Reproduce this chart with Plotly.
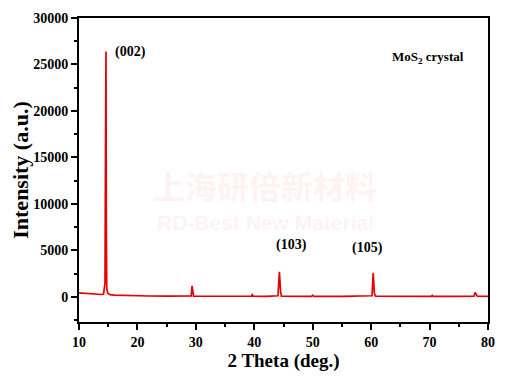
import plotly.graph_objects as go

two_theta = [10.0, 11.0, 12.0, 13.0, 13.8, 14.2, 14.45, 14.55, 14.62, 14.68, 14.75, 14.9, 15.3,
             16.0, 18.0, 20.0, 22.0, 25.0, 28.0, 29.2, 29.35, 29.45, 29.6, 32.0, 35.0,
             39.5, 39.65, 39.8, 42.0, 44.05, 44.3, 44.4, 44.5, 44.65, 47.0, 49.8, 50.0, 50.2,
             55.0, 60.15, 60.35, 60.45, 60.55, 60.75, 65.0, 70.3, 70.45, 70.6, 75.0,
             77.6, 77.8, 77.95, 78.15, 80.0]
intensity = [430, 370, 320, 280, 260, 300, 1500, 18000, 26400, 7200, 900, 430, 250,
             190, 140, 110, 95, 85, 75, 110, 1180, 350, 80, 70, 65,
             70, 230, 70, 65, 120, 2700, 1400, 500, 80, 60, 60, 180, 60,
             55, 120, 2600, 1500, 400, 70, 55, 55, 150, 55, 50,
             80, 480, 250, 70, 50]

x_ticks = [10, 20, 30, 40, 50, 60, 70, 80]
y_ticks = [0, 5000, 10000, 15000, 20000, 25000, 30000]

peak_labels = ["(002)", "(103)", "(105)"]
peak_label_x = [18.8, 46.4, 59.4]
peak_label_y = [26300, 5600, 5300]

serif = "Liberation Serif, Times New Roman, serif"

fig = go.Figure()
fig.add_trace(go.Scatter(x=two_theta, y=intensity, mode="lines",
                         line=dict(color="#e60000", width=1.7), showlegend=False))

for t, x, y in zip(peak_labels, peak_label_x, peak_label_y):
    fig.add_annotation(x=x, y=y, text="<b>" + t + "</b>", showarrow=False,
                       font=dict(family=serif, size=14, color="black"))

fig.add_annotation(x=0.760, y=0.905, xref="paper", yref="paper", xanchor="left",
                   text="<b>MoS<sub>2</sub> crystal</b>", showarrow=False,
                   font=dict(family=serif, size=13, color="black"))

# watermark
fig.add_annotation(x=0.455, y=0.372, xref="paper", yref="paper", yanchor="bottom",
                   text="<b>上海研倍新材料</b>", showarrow=False, borderpad=0,
                   font=dict(family="Noto Sans CJK SC", size=32, color="rgba(240,60,60,0.07)"))
fig.add_annotation(x=0.455, y=0.370, xref="paper", yref="paper", yanchor="top",
                   text="<b>RD-Best New Material</b>", showarrow=False, borderpad=0,
                   font=dict(family="Liberation Sans, Arial", size=21, color="rgba(240,60,60,0.07)"))

axis_common = dict(showgrid=False, zeroline=False, showline=True, linecolor="black",
                   linewidth=2, mirror=True, ticks="outside", ticklen=6, tickwidth=2,
                   tickcolor="black", automargin=False,
                   tickfont=dict(family=serif, size=14, color="black"))

fig.update_xaxes(range=[10, 80], tickvals=x_ticks,
                 ticktext=["<b>%d</b>" % v for v in x_ticks],
                 minor=dict(ticks="outside", tick0=5, dtick=5, ticklen=3, tickwidth=2, tickcolor="black"),
                 title=dict(text="<b>2 Theta (deg.)</b>", font=dict(family=serif, size=19, color="black"),
                            standoff=2),
                 **axis_common)
fig.update_yaxes(range=[-2700, 30000], tickvals=y_ticks,
                 ticktext=["<b>%d</b>" % v for v in y_ticks],
                 minor=dict(ticks="outside", tick0=0, dtick=2500, ticklen=3, tickwidth=2, tickcolor="black"),
                 title=dict(text="<b>Intensity (a.u.)</b>", font=dict(family=serif, size=22, color="black"),
                            standoff=6),
                 **axis_common)

# page body has an 8px margin, so the figure is offset by (8, 8) in the window
fig.update_layout(width=505, height=369, margin=dict(l=71, r=25, t=10, b=55),
                  plot_bgcolor="white", paper_bgcolor="white")

fig.write_html("out.html")
